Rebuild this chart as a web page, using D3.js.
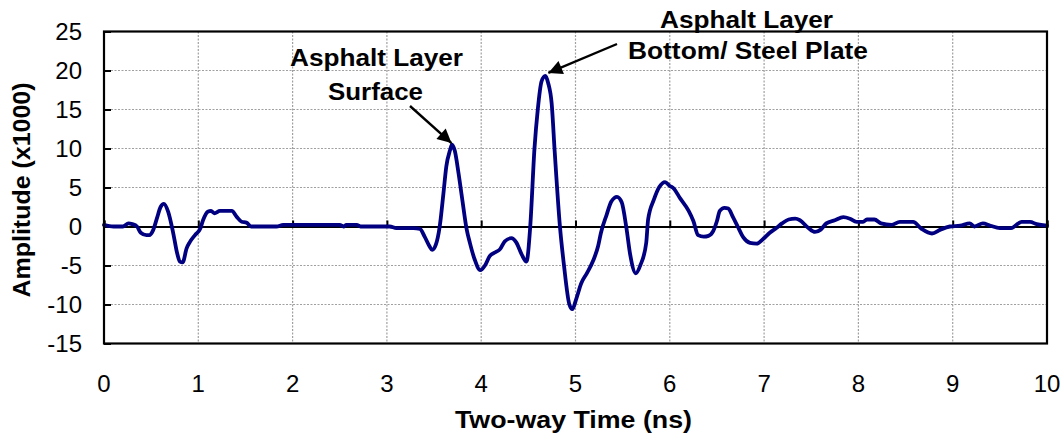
<!DOCTYPE html>
<html>
<head>
<meta charset="utf-8">
<script src="https://cdn.jsdelivr.net/npm/d3@7"></script>
<style>
  html, body { margin: 0; padding: 0; background: #fff; }
  svg { display: block; }
  text { font-family: "Liberation Sans", Arial, sans-serif; fill: #000; }
</style>
</head>
<body>
<svg id="chart" width="1064" height="438"></svg>
<script>
// ---- Data ----
const time = [0, 0.1, 0.2, 0.26, 0.3, 0.35, 0.39, 0.45, 0.48, 0.52, 0.56, 0.6, 0.635, 0.68, 0.735, 0.777, 0.805, 0.834, 0.876, 0.91, 0.965, 1.02, 1.05, 1.1, 1.135, 1.17, 1.23, 1.355, 1.41, 1.46, 1.51, 1.56, 1.7, 1.83, 1.9, 2.2, 2.5, 2.54, 2.57, 2.68, 2.72, 3.03, 3.1, 3.28, 3.35, 3.40, 3.45, 3.48, 3.52, 3.56, 3.6, 3.63, 3.67, 3.69, 3.72, 3.76, 3.80, 3.845, 3.88, 3.93, 3.99, 4.04, 4.09, 4.15, 4.2, 4.25, 4.32, 4.37, 4.43, 4.48, 4.52, 4.565, 4.6, 4.64, 4.68, 4.71, 4.747, 4.78, 4.835, 4.878, 4.935, 4.966, 5.01, 5.06, 5.12, 5.19, 5.24, 5.27, 5.33, 5.38, 5.44, 5.49, 5.54, 5.58, 5.64, 5.69, 5.75, 5.77, 5.83, 5.89, 5.95, 6.0, 6.04, 6.11, 6.2, 6.25, 6.30, 6.36, 6.41, 6.46, 6.5, 6.53, 6.58, 6.62, 6.67, 6.72, 6.78, 6.85, 6.92, 6.99, 7.06, 7.13, 7.19, 7.26, 7.33, 7.38, 7.47, 7.54, 7.60, 7.66, 7.75, 7.84, 7.91, 7.98, 8.05, 8.09, 8.17, 8.24, 8.35, 8.44, 8.58, 8.67, 8.78, 8.87, 8.97, 9.08, 9.18, 9.23, 9.32, 9.40, 9.5, 9.62, 9.73, 9.82, 9.89, 10.0];
const amplitude = [0.2, 0, 0, 0.4, 0.3, 0, -0.8, -1.1, -1.1, -0.5, 1.0, 2.5, 2.9, 1.9, -0.9, -3.5, -4.5, -4.6, -2.8, -2.0, -1.1, -0.3, 0.8, 1.9, 2.0, 1.7, 2.0, 2.0, 1.2, 0.6, 0.5, 0, 0, 0, 0.2, 0.2, 0.2, 0, 0.2, 0.2, 0, 0, -0.2, -0.2, -0.3, -1.3, -2.5, -3.0, -2.3, 0, 4.3, 7.7, 9.8, 10.5, 9.7, 6.8, 3.4, -0.3, -2.1, -4.2, -5.6, -5.0, -3.8, -3.3, -2.9, -1.9, -1.5, -2.0, -3.6, -4.5, 0, 10, 15, 18.6, 19.3, 18.4, 15.8, 9.5, 0, -5, -10, -10.6, -9.2, -7.3, -6.0, -4.3, -2.5, -0.8, 1.5, 3.2, 3.8, 3.1, -0.2, -3.6, -6.0, -4.9, -2.1, 0.9, 3.4, 5.1, 5.7, 5.2, 4.9, 3.6, 2.0, 0.7, -1.1, -1.3, -1.2, -0.6, 0.7, 2.0, 2.4, 2.3, 1.2, 0, -1.4, -2.1, -2.2, -1.6, -0.8, -0.2, 0.4, 0.9, 1.0, 0.8, -0.2, -0.7, -0.4, 0.4, 0.8, 1.2, 1.0, 0.6, 0.6, 0.9, 0.9, 0.4, 0.2, 0.6, 0.6, -0.3, -0.9, -0.4, 0, 0.1, 0.4, 0, 0.4, 0.1, -0.2, -0.2, 0.6, 0.6, 0.3, 0.1];
const xTicks = [0, 1, 2, 3, 4, 5, 6, 7, 8, 9, 10];
const yTicks = [-15, -10, -5, 0, 5, 10, 15, 20, 25];
const xTitle = "Two-way Time (ns)";
const yTitle = "Amplitude (x1000)";
const annoSurfaceLines = ["Asphalt Layer", "Surface"];
const annoSurfacePoint = [3.69, 10.5];
const annoBottomLines = ["Asphalt Layer", "Bottom/ Steel Plate"];
const annoBottomPoint = [4.68, 19.3];

// ---- Layout ----
const svg = d3.select("#chart");
const L = 104, R = 1047, T = 31.5, B = 343.5;
const x = d3.scaleLinear().domain([0, 10]).range([L, R]);
const y = d3.scaleLinear().domain([-15, 25]).range([B, T]);

// defs: arrowhead
svg.append("defs").append("marker")
  .attr("id", "ah").attr("viewBox", "0 0 10 10")
  .attr("refX", 10).attr("refY", 5)
  .attr("markerWidth", 18).attr("markerHeight", 14)
  .attr("markerUnits", "userSpaceOnUse")
  .attr("orient", "auto")
  .append("path").attr("d", "M0,0 L10,5 L0,10 Z").attr("fill", "#000");

// grid
const grid = svg.append("g");
grid.selectAll("line.v").data(xTicks.filter(d => d > 0 && d < 10)).join("line")
  .attr("x1", d => x(d)).attr("x2", d => x(d)).attr("y1", T).attr("y2", B)
  .attr("stroke", "#a0a0a0").attr("stroke-width", 1.2).attr("stroke-dasharray", "2,1.5");
grid.selectAll("line.h").data(yTicks.filter(d => d !== 0 && d > -15 && d < 25)).join("line")
  .attr("x1", L).attr("x2", R).attr("y1", d => y(d)).attr("y2", d => y(d))
  .attr("stroke", "#a0a0a0").attr("stroke-width", 1.2).attr("stroke-dasharray", "2,1.5");

// zero line as x axis with upward ticks
const xAxis = d3.axisTop(x).tickValues(xTicks).tickSize(6).tickFormat("");
const gx = svg.append("g").attr("transform", `translate(0,${y(0)})`).call(xAxis);
gx.select(".domain").attr("stroke", "#000").attr("stroke-width", 2);
gx.selectAll(".tick line").attr("stroke", "#000").attr("stroke-width", 2);

// y axis ticks (inward) + labels
const yAxis = d3.axisRight(y).tickValues(yTicks).tickSize(7).tickFormat("");
const gy = svg.append("g").attr("transform", `translate(${L},0)`).call(yAxis);
gy.select(".domain").remove();
gy.selectAll(".tick line").attr("stroke", "#000").attr("stroke-width", 2);

svg.append("g").selectAll("text").data(yTicks).join("text")
  .attr("x", 82).attr("y", d => y(d)).attr("dy", "0.36em")
  .attr("text-anchor", "end").attr("font-size", 24).text(d => d);

svg.append("g").selectAll("text").data(xTicks).join("text")
  .attr("x", d => x(d)).attr("y", 392)
  .attr("text-anchor", "middle").attr("font-size", 24).text(d => d);

// waveform
const pts = time.map((t, i) => [t, amplitude[i]]);
const line = d3.line().x(d => x(d[0])).y(d => y(d[1])).curve(d3.curveMonotoneX);
svg.append("path").datum(pts).attr("d", line)
  .attr("fill", "none").attr("stroke", "#000080").attr("stroke-width", 3.8)
  .attr("stroke-linejoin", "round").attr("stroke-linecap", "round");

// frame
svg.append("rect").attr("x", L).attr("y", T).attr("width", R - L).attr("height", B - T)
  .attr("fill", "none").attr("stroke", "#000").attr("stroke-width", 2.2);

// titles
svg.append("text").attr("x", 573.5).attr("y", 428).attr("text-anchor", "middle")
  .attr("font-size", 23).attr("font-weight", "bold")
  .attr("textLength", 237).attr("lengthAdjust", "spacingAndGlyphs").text(xTitle);
svg.append("text").attr("transform", "translate(30,190) rotate(-90)").attr("text-anchor", "middle")
  .attr("font-size", 23).attr("font-weight", "bold")
  .attr("textLength", 215).attr("lengthAdjust", "spacingAndGlyphs").text(yTitle);

// annotations
function anno(lines, cx, baselines, lengths) {
  lines.forEach((s, i) => {
    svg.append("text").attr("x", cx[i]).attr("y", baselines[i]).attr("text-anchor", "middle")
      .attr("font-size", 23).attr("font-weight", "bold")
      .attr("textLength", lengths[i]).attr("lengthAdjust", "spacingAndGlyphs").text(s);
  });
}
anno(annoSurfaceLines, [376.5, 375.5], [66, 100], [173, 95]);
anno(annoBottomLines, [746.5, 748], [28, 59], [173, 240]);

svg.append("line").attr("x1", 410).attr("y1", 106)
  .attr("x2", x(annoSurfacePoint[0]) - 0.5).attr("y2", y(annoSurfacePoint[1]) - 1.5)
  .attr("stroke", "#000").attr("stroke-width", 2.4).attr("marker-end", "url(#ah)");
svg.append("line").attr("x1", 617).attr("y1", 44)
  .attr("x2", x(annoBottomPoint[0]) + 3).attr("y2", y(annoBottomPoint[1]) - 3)
  .attr("stroke", "#000").attr("stroke-width", 2.4).attr("marker-end", "url(#ah)");
</script>
</body>
</html>
